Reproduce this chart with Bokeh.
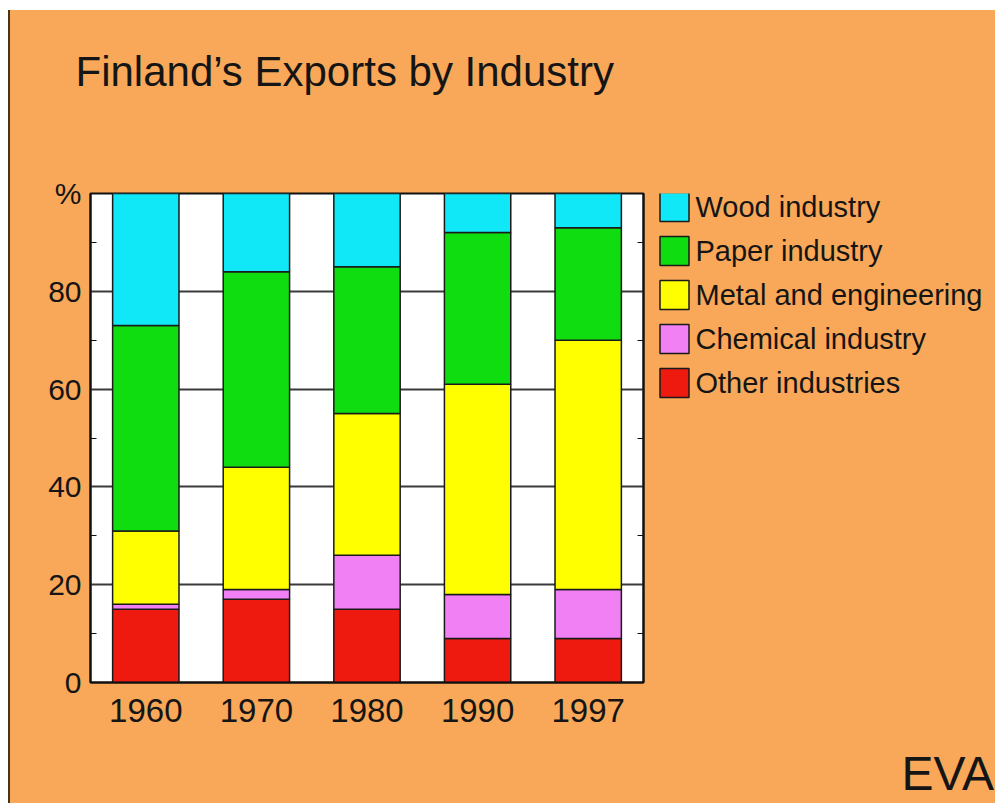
from bokeh.plotting import figure
from bokeh.layouts import column, row
from bokeh.models import ColumnDataSource, FactorRange, Range1d, LinearAxis, FixedTicker
from bokeh.core.properties import value
from bokeh.embed import file_html
from bokeh.resources import INLINE

# ---- data (percent of exports) ----
years = ["1960", "1970", "1980", "1990", "1997"]
other_industries = [15, 17, 15, 9, 9]
chemical_industry = [1, 2, 11, 9, 10]
metal_engineering = [15, 25, 29, 43, 51]
paper_industry = [42, 40, 30, 31, 23]
wood_industry = [27, 16, 15, 8, 7]

series_keys = ["other", "chemical", "metal", "paper", "wood"]
series_labels = ["Other industries", "Chemical industry", "Metal and engineering",
                 "Paper industry", "Wood industry"]
series_colors = ["#EE1A10", "#F080F4", "#FFFF00", "#10DD10", "#10E8F8"]

y_ticks = [0, 20, 40, 60, 80, 100]
y_minor = [10, 30, 50, 70, 90]
y_grid = [20, 40, 60, 80]
y_tick_labels = {100: "%"}

title_text = "Finland\u2019s Exports by Industry"
corner_text = "EVA"

FONT = "Liberation Sans"
TXT = "#151515"
BG = "#F8A858"
EDGE = "#1a1a1a"


def blank_fig(w, h, xr, yr, **kw):
    f = figure(width=w, height=h, x_range=xr, y_range=yr, x_axis_type=None,
               y_axis_type=None, toolbar_location=None, output_backend="svg",
               title=None, **kw)
    f.outline_line_color = None
    f.background_fill_color = BG
    f.border_fill_color = BG
    return f


# ---------------- title strip (pixel-like ranges, y downwards) ----------------
top = blank_fig(985, 150, Range1d(0, 985), Range1d(150, 0), min_border=0)
top.text(x=[65], y=[61], text=[title_text], text_font=value(FONT),
         text_font_size="42px", text_baseline="middle", text_align="left",
         text_color=TXT)

# ---------------- main chart ----------------
source = ColumnDataSource(dict(
    years=years,
    other=other_industries,
    chemical=chemical_industry,
    metal=metal_engineering,
    paper=paper_industry,
    wood=wood_industry,
))

p = figure(width=643, height=577, x_range=FactorRange(*years, range_padding=0),
           y_range=Range1d(0, 100), output_backend="svg", toolbar_location=None,
           min_border_left=80, min_border_right=10, min_border_top=33,
           min_border_bottom=55, title=None)
p.background_fill_color = "white"
p.border_fill_color = BG
p.outline_line_color = "#111111"
p.outline_line_width = 2

renderers = p.vbar_stack(series_keys, x="years", width=0.6, color=series_colors,
                         line_color=EDGE, line_width=1.5, source=source)

p.xgrid.visible = False
p.ygrid.ticker = FixedTicker(ticks=y_grid)
p.ygrid.grid_line_color = "#3a3a3a"
p.ygrid.grid_line_width = 2

ya = p.yaxis[0]
ya.ticker = FixedTicker(ticks=y_ticks, minor_ticks=y_minor)
ya.major_label_overrides = y_tick_labels
ya.major_tick_in = 0
ya.major_tick_out = 0
ya.minor_tick_in = 6
ya.minor_tick_out = 0
ya.minor_tick_line_color = "#111111"
ya.axis_line_color = "#111111"
ya.axis_line_width = 2
ya.major_label_text_font = FONT
ya.major_label_text_font_size = "30px"
ya.major_label_text_color = TXT
ya.major_label_standoff = 9

ra = LinearAxis(ticker=FixedTicker(ticks=y_ticks, minor_ticks=y_minor))
ra.major_label_text_color = None
ra.major_tick_in = 0
ra.major_tick_out = 0
ra.minor_tick_in = 6
ra.minor_tick_out = 0
ra.major_label_standoff = 0
ra.minor_tick_line_color = "#111111"
ra.axis_line_color = "#111111"
ra.axis_line_width = 2
p.add_layout(ra, "right")

xa = p.xaxis[0]
xa.major_tick_line_color = None
xa.minor_tick_line_color = None
xa.axis_line_color = "#111111"
xa.axis_line_width = 2
xa.major_label_text_font = FONT
xa.major_label_text_font_size = "33px"
xa.major_label_text_color = TXT
xa.major_label_standoff = 10

# ---------------- legend (frame aligned with the chart frame) ----------------
side = blank_fig(342, 577, Range1d(0, 342), Range1d(489, 0),
                 min_border_left=0, min_border_right=0, min_border_top=33,
                 min_border_bottom=55)
row_y = [13.5 + 44 * i for i in range(len(series_labels))]
legend_src = ColumnDataSource(dict(label=series_labels[::-1], color=series_colors[::-1],
                                   y=row_y))
side.scatter(x=21, y="y", marker="square", size=29, fill_color="color",
             line_color=EDGE, line_width=1.5, source=legend_src)
side.text(x=42, y="y", text="label", text_font=value(FONT), text_font_size="29px",
          text_baseline="middle", text_align="left", text_color=TXT, source=legend_src)

# ---------------- bottom strip with corner text ----------------
bottom = blank_fig(985, 66, Range1d(0, 985), Range1d(66, 0), min_border=0)
bottom.text(x=[891], y=[36], text=[corner_text], text_font=value(FONT),
            text_font_size="48px", text_baseline="middle", text_align="left",
            text_color=TXT)

layout = column(top, row(p, side, spacing=0), bottom, spacing=0,
                styles={"margin-top": "10px", "margin-left": "8px",
                        "border-left": "2px solid #4a3418",
                        "background-color": BG})

open("out.html", "w").write(file_html(layout, INLINE))
